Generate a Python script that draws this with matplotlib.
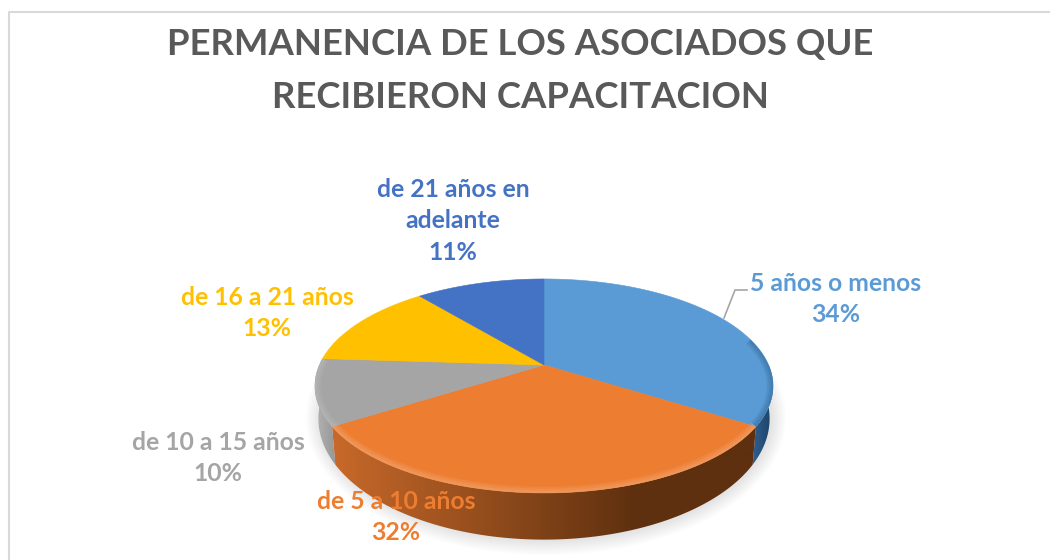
import matplotlib
matplotlib.use("Agg")
import matplotlib.pyplot as plt
from matplotlib.patches import Polygon, Ellipse
import numpy as np

categories = ["5 años o menos", "de 5 a 10 años", "de 10 a 15 años", "de 16 a 21 años", "de 21 años en\nadelante"]
values = [34, 32, 10, 13, 11]
colors = ["#5b9bd5", "#ed7d31", "#a5a5a5", "#ffc000", "#4472c4"]
title = "PERMANENCIA DE LOS ASOCIADOS QUE\nRECIBIERON CAPACITACION"

# label centres in pixels
label_pos = [(836, 299), (396, 517), (218, 458), (267, 313), (453, 221)]

# pie geometry, perspective view of a disc
cx, cy = 544, 365
sx, sy = 224.6, 102.9
k = 0.196

plt.rcParams['font.family'] = ['Lato', 'DejaVu Sans']

fig = plt.figure(figsize=(10.5, 5.6), dpi=100)
ax = fig.add_axes([0, 0, 1, 1])
ax.set_xlim(0, 1050)
ax.set_ylim(560, 0)
ax.axis('off')


def top_pt(t):
    d = 1 + k * np.cos(t)
    return cx + sx * np.sin(t) / d, cy - sy * np.cos(t) / d


def bottom_pt(t):
    d = 1 + k * np.cos(t)
    return cx + 0.985 * sx * np.sin(t) / d, 395 - 1.13 * sy * np.cos(t) / d


def shade(c0, c1, end=1.0):
    # horizontal gradient strip, reaches c1 at fraction end
    c0 = np.array(matplotlib.colors.to_rgb(c0))
    c1 = np.array(matplotlib.colors.to_rgb(c1))
    f = np.clip(np.linspace(0, 1, 256) / end, 0, 1)[None, :, None]
    return c0 + (c1 - c0) * f


# chart frame
ax.plot([9, 9, 1050], [560, 12, 12], color="#d9d9d9", lw=1.5, zorder=1)

# soft shadow under the pie
for i in range(14):
    ax.add_patch(Ellipse((546, 418), 2 * (226 + i * 1.1), 2 * (123 + i * 1.1),
                         fc="#000000", ec="none", alpha=0.009, zorder=2))

# slice angles, clockwise from the top
edges = np.cumsum([0] + values) / sum(values) * 2 * np.pi

# side walls
side_grads = {0: shade("#2f5f8f", "#1c3f60"), 1: shade("#c8692a", "#5e300f", 0.72), 2: shade("#b4b4b4", "#969696")}
for i, grad in side_grads.items():
    t = np.linspace(edges[i], edges[i + 1], 160)
    if i == 0:
        t = np.linspace(np.pi * 0.5, edges[1], 120)
    xt, yt = top_pt(t)
    xb, yb = bottom_pt(t)
    poly = Polygon(np.c_[np.r_[xt, xb[::-1]], np.r_[yt, yb[::-1]]], closed=True,
                   fc="none", ec="none", zorder=3)
    ax.add_patch(poly)
    x0, x1 = min(xt.min(), xb.min()), max(xt.max(), xb.max())
    im = ax.imshow(grad, extent=(x0, x1, 560, 0), aspect='auto', zorder=3, interpolation='bilinear')
    im.set_clip_path(poly)
ax.set_xlim(0, 1050)
ax.set_ylim(560, 0)

# top surface
for i, v in enumerate(values):
    t = np.linspace(edges[i], edges[i + 1], 160)
    x, y = top_pt(t)
    ax.add_patch(Polygon(np.c_[np.r_[cx, x], np.r_[cy, y]], closed=True, fc=colors[i],
                         ec=colors[i], lw=0.4, zorder=4))

# rim bevel, kept inside the top surface
t = np.linspace(0, 2 * np.pi, 400)
x, y = top_pt(t)
rim_clip = Polygon(np.c_[x, y], closed=True, fc="none", ec="none", zorder=4)
ax.add_patch(rim_clip)
bevels = [(edges[1], edges[2], "#ffffff", 0.07),
          (np.radians(75), edges[1], "#1f4e79", 0.14),
          (edges[2], edges[3], "#ffffff", 0.05)]
for t0, t1, rim, alpha in bevels:
    x, y = top_pt(np.linspace(t0, t1, 160))
    for lw in [9, 6, 3]:
        line, = ax.plot(x, y, color=rim, lw=lw, alpha=alpha, zorder=5, solid_capstyle='butt')
        line.set_clip_path(rim_clip)

# leader line
ax.plot([724, 735, 747], [318, 290, 290], color="#a6a6a6", lw=1.2, zorder=6)

ax.text(520, 71, title, ha='center', va='center', fontsize=26.3, fontweight='bold',
        color="#595959", linespacing=1.72, zorder=7)

for i, v in enumerate(values):
    ax.text(label_pos[i][0], label_pos[i][1], f"{categories[i]}\n{v}%", ha='center', va='center',
            fontsize=17.8, fontweight='bold', color=colors[i], linespacing=1.47, zorder=7)

fig.savefig("out.png", dpi=100)
